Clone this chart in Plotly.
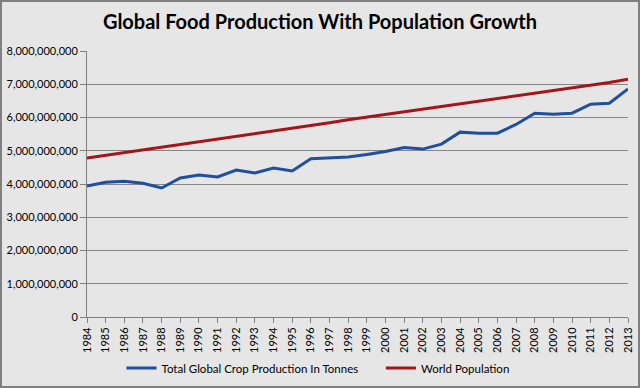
import plotly.graph_objects as go

years = [str(y) for y in range(1984, 2014)]
crop_production = [3.94e9, 4.05e9, 4.08e9, 4.02e9, 3.88e9, 4.18e9, 4.27e9, 4.21e9, 4.42e9, 4.33e9,
                   4.48e9, 4.39e9, 4.76e9, 4.78e9, 4.81e9, 4.89e9, 4.98e9, 5.10e9, 5.05e9, 5.20e9,
                   5.56e9, 5.53e9, 5.53e9, 5.79e9, 6.13e9, 6.10e9, 6.13e9, 6.40e9, 6.43e9, 6.86e9]
world_population = [4.78e9, 4.86e9, 4.94e9, 5.03e9, 5.11e9, 5.20e9, 5.28e9, 5.36e9, 5.44e9, 5.52e9,
                     5.60e9, 5.68e9, 5.76e9, 5.84e9, 5.93e9, 6.01e9, 6.09e9, 6.17e9, 6.25e9, 6.33e9,
                     6.41e9, 6.47e9, 6.55e9, 6.63e9, 6.71e9, 6.79e9, 6.87e9, 6.95e9, 7.05e9, 7.15e9]
y_ticks = [0, 1e9, 2e9, 3e9, 4e9, 5e9, 6e9, 7e9, 8e9]
y_tick_labels = ["0", "1,000,000,000", "2,000,000,000", "3,000,000,000", "4,000,000,000",
                 "5,000,000,000", "6,000,000,000", "7,000,000,000", "8,000,000,000"]

fig = go.Figure()
fig.add_trace(go.Scatter(x=years, y=crop_production, mode="lines",
                         name="Total Global Crop Production In Tonnes" + "\u00a0" * 6,
                         line=dict(color="#1f4f9e", width=3)))
fig.add_trace(go.Scatter(x=years, y=world_population, mode="lines",
                         name="World Population",
                         line=dict(color="#a51419", width=3)))

bg = "#e6e6e6"
L, R, T, B = 87, 12, 51, 71
pw, ph = 640 - L - R, 388 - T - B
fig.update_layout(
    width=640, height=388,
    paper_bgcolor=bg, plot_bgcolor=bg,
    margin=dict(l=L, r=R, t=T, b=B, autoexpand=False),
    title=dict(text="<b>Global Food Production With Population Growth</b>",
               x=0.5, xanchor="center", y=1 - 22 / 388, yanchor="middle",
               font=dict(family="Lato", size=20, color="#000000")),
    font=dict(family="Lato", size=11, color="#000000"),
    showlegend=True,
    legend=dict(orientation="h", x=(318 - L) / pw, xanchor="center", y=-51 / ph, yanchor="middle",
                bgcolor="rgba(0,0,0,0)", font=dict(size=11.5), itemwidth=30),
    xaxis=dict(type="category", tickangle=-90, showgrid=False, showline=True,
               linecolor="#808080", linewidth=1, ticks="outside", ticklen=5,
               tickcolor="#808080", tickfont=dict(size=11), range=[0, 29],
               automargin=False),
    yaxis=dict(range=[0, 8e9], tickvals=y_ticks, ticktext=y_tick_labels,
               showgrid=True, gridcolor="#868686", gridwidth=1, zeroline=False,
               showline=True, linecolor="#808080", linewidth=1, ticks="outside",
               ticklen=6, tickcolor="#808080", tickfont=dict(size=11),
               automargin=False),
    shapes=[dict(type="rect", xref="paper", yref="paper",
                 x0=(-L + 1) / pw, x1=1 + (R - 1) / pw, y0=(-B + 1) / ph, y1=1 + (T - 1) / ph,
                 line=dict(color="#808080", width=2), layer="above")],
)

fig.write_html("out.html", config={"displayModeBar": False},
               post_script="document.body.style.margin='0';document.body.style.overflow='hidden';")
